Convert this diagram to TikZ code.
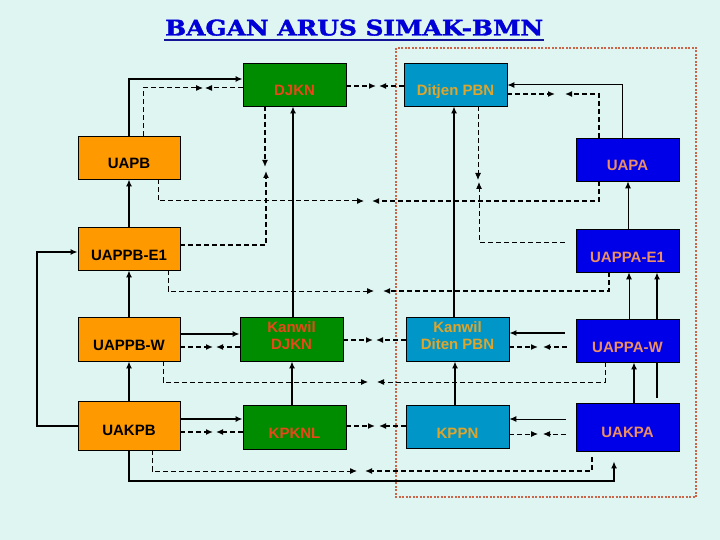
\documentclass[tikz,border=0pt]{standalone}
\usepackage{fontspec}
\setmainfont{Liberation Sans}
\newfontfamily\titlefnt{DejaVu Serif}[BoldFeatures={FakeBold=1.5}]
\usetikzlibrary{arrows.meta}
\definecolor{bgc}{RGB}{222,245,242}
\definecolor{orb}{RGB}{255,153,0}
\definecolor{grb}{RGB}{0,140,0}
\definecolor{grt}{RGB}{232,72,24}
\definecolor{tlb}{RGB}{0,150,200}
\definecolor{tlt}{RGB}{222,165,45}
\definecolor{blb}{RGB}{0,0,232}
\definecolor{blt}{RGB}{236,142,100}
\definecolor{ttl}{RGB}{0,0,215}
\definecolor{ttu}{RGB}{20,20,150}
\definecolor{frm}{RGB}{205,100,72}
\tikzset{
  bx/.style={draw=black,line width=0.8pt,rectangle,inner sep=0pt,minimum width=103pt,minimum height=43pt,font=\bfseries\fontsize{15}{17}\selectfont},
  one/.style={text height=23pt,text depth=0pt},
  two/.style={align=center},
  orbox/.style={bx,fill=orb,text=black},
  grbox/.style={bx,fill=grb,text=grt},
  tlbox/.style={bx,fill=tlb,text=tlt},
  blbox/.style={bx,fill=blb,text=blt},
  arr/.style={-{Latex[length=7pt,width=6pt]}},
  thk/.style={line width=2pt},
  thn/.style={line width=1pt},
  dthk/.style={line width=2pt,dash pattern=on 5pt off 3pt},
  dthn/.style={line width=1pt,dash pattern=on 5pt off 3pt},
}
\begin{document}
\begin{tikzpicture}[x=1pt,y=-1pt]
\fill[bgc] (0,0) rectangle (720,540);
\useasboundingbox (0,0) rectangle (720,540);
% title
\node[anchor=south west,inner sep=0pt,text=ttl] (title) at (165,36) {\resizebox{378pt}{16pt}{\titlefnt\bfseries BAGAN ARUS SIMAK-BMN}};
\draw[ttu,line width=2pt] (title.south west) ++(-1,4) -- ++(380,0);
% frame
\draw[frm,line width=2pt,dash pattern=on 2pt off 1.5pt] (396,48) rectangle (696,497);
% boxes
\node[grbox,one] (djkn) at (294.5,84.5) {DJKN};
\node[tlbox,one] (dpbn) at (455.5,84.5) {Ditjen PBN};
\node[orbox,one,minimum width=102pt] (uapb) at (129,157.5) {UAPB};
\node[blbox,one] (uapa) at (627.5,159.5) {UAPA};
\node[orbox,one,minimum width=102pt] (uappbe) at (129,248.5) {UAPPB-E1};
\node[blbox,one] (uappae) at (627.5,250.5) {UAPPA-E1};
\node[orbox,one,minimum width=102pt,minimum height=44pt] (uappbw) at (129,339) {UAPPB-W};
\node[grbox,two,minimum height=44pt,text depth=6pt] (kdjkn) at (291.5,339) {Kanwil\\DJKN};
\node[tlbox,two,minimum height=44pt,text depth=6pt] (kpbn) at (457.5,339) {Kanwil\\Diten PBN};
\node[blbox,one] (uappaw) at (627.5,340.5) {UAPPA-W};
\node[orbox,minimum width=102pt,minimum height=49pt,text height=20pt,text depth=0pt] (uakpb) at (129,425.5) {UAKPB};
\node[grbox,one,minimum height=44pt] (kpknl) at (294.5,427) {KPKNL};
\node[tlbox,one] (kppn) at (457.5,426.5) {KPPN};
\node[blbox,minimum height=48pt,text height=20pt,text depth=0pt] (uakpa) at (627.5,427) {UAKPA};
% ---- top row
\draw[thk,arr] (uapb.north) |- (djkn.west |- 0,79);
\draw[dthn,arr] (143,0 |- uapb.north) |- (203,88);
\draw[dthn,arr] (djkn.west |- 0,88) -- (205,88);
\draw[dthk,arr] (djkn.east |- 0,86) -- (376,86);
\draw[dthk,arr] (dpbn.west |- 0,86) -- (379,86);
\draw[thn,arr] (622,0 |- uapa.north) |- (dpbn.east |- 0,85);
\draw[dthk,arr] (dpbn.east |- 0,94) -- (555,94);
\draw[dthk,arr] (599,0 |- uapa.north) |- (565,94);
% ---- y=201
\draw[dthn,arr] (158,0 |- uapb.south) |- (364,201);
\draw[dthk,arr] (599,0 |- uapa.south) |- (372,201);
% ---- DJKN / UAPPB-E1
\draw[dthk,arr] (265,0 |- djkn.south) -- (265,167);
\draw[dthk,arr] (uappbe.east |- 0,245) -| (266,171);
% ---- Ditjen / UAPPA-E1
\draw[dthn,arr] (478,0 |- dpbn.south) -- (478,180);
\draw[dthn,arr,shorten <=11pt] (uappae.west |- 0,242) -| (479,182);
% ---- y=291
\draw[dthn,arr] (168,0 |- uappbe.south) |- (374,291);
\draw[dthk,arr] (609,0 |- uappae.south) |- (383,291);
% ---- UAPPB-W row
\draw[thk,arr] (uappbw.east |- 0,334) -- (kdjkn.west |- 0,334);
\draw[dthk,arr] (uappbw.east |- 0,347) -- (213,347);
\draw[dthk,arr] (kdjkn.west |- 0,347) -- (216,347);
\draw[dthk,arr] (kdjkn.east |- 0,340) -- (373,340);
\draw[dthk,arr] (kpbn.west |- 0,340) -- (376,340);
\draw[thk,arr,shorten <=11pt] (uappaw.west |- 0,333) -- (kpbn.east |- 0,333);
\draw[dthk,arr] (kpbn.east |- 0,347) -- (538,347);
\draw[dthk,arr,shorten <=9pt] (uappaw.west |- 0,347) -- (543,347);
% ---- y=382
\draw[dthn,arr] (163,0 |- uappbw.south) |- (368,382);
\draw[dthn,arr] (605,0 |- uappaw.south) |- (377,382);
% ---- UAKPB row
\draw[thk,arr] (uakpb.east |- 0,419) -- (kpknl.west |- 0,419);
\draw[dthk,arr] (uakpb.east |- 0,432) -- (213,432);
\draw[dthk,arr] (kpknl.west |- 0,432) -- (216,432);
\draw[dthk,arr] (kpknl.east |- 0,426) -- (375,426);
\draw[dthk,arr] (kppn.west |- 0,426) -- (379,426);
\draw[thn,arr,shorten <=10pt] (uakpa.west |- 0,419) -- (kppn.east |- 0,419);
\draw[dthn,arr] (kppn.east |- 0,434) -- (538,434);
\draw[dthn,arr,shorten <=10pt] (uakpa.west |- 0,434) -- (543,434);
% ---- bottom
\draw[dthn,arr] (152,0 |- uakpb.south) |- (357,471);
\draw[dthk,arr,shorten <=6pt] (592,0 |- uakpa.south) |- (365,471);
\draw[thk,arr,shorten >=10pt] (uakpb.south) |- (614,481) -- (614,0 |- uakpa.south);
% ---- left column
\draw[thk,arr] (uappbe.north) -- (uapb.south);
\draw[thk,arr] (uappbw.north) -- (uappbe.south);
\draw[thk,arr] (uakpb.north) -- (uappbw.south);
\draw[thk,arr] (uakpb.west) -| (37,252) -- (uappbe.west |- 0,252);
% ---- middle columns
\draw[thk,arr] (293,0 |- kdjkn.north) -- (293,0 |- djkn.south);
\draw[thk,arr] (454,0 |- kpbn.north) -- (454,0 |- dpbn.south);
\draw[thk,arr] (292,0 |- kpknl.north) -- (292,0 |- kdjkn.south);
\draw[thk,arr] (455,0 |- kppn.north) -- (455,0 |- kpbn.south);
% ---- right column
\draw[thn,arr] (628,0 |- uappae.north) -- (628,0 |- uapa.south);
\draw[thn,arr] (629,0 |- uappaw.north) -- (629,0 |- uappae.south);
\draw[thk,arr] (657,0 |- uappaw.north) -- (657,0 |- uappae.south);
\draw[thk,arr] (634,0 |- uakpa.north) -- (634,0 |- uappaw.south);
\draw[thk,shorten <=5pt] (657,0 |- uakpa.north) -- (657,0 |- uappaw.south);
\end{tikzpicture}
\end{document}
